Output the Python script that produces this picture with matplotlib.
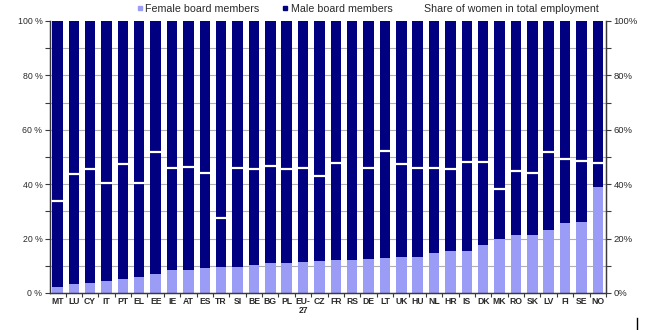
import numpy as np
import matplotlib
matplotlib.use("Agg")
import matplotlib.pyplot as plt
from matplotlib.lines import Line2D
from matplotlib.ticker import MultipleLocator, FixedLocator

plt.rcParams['font.family'] = ['Liberation Sans', 'DejaVu Sans']

countries = ["MT", "LU", "CY", "IT", "PT", "EL", "EE", "IE", "AT", "ES", "TR", "SI",
             "BE", "BG", "PL", "EU-\n27", "CZ", "FR", "RS", "DE", "LT", "UK", "HU",
             "NL", "HR", "IS", "DK", "MK", "RO", "SK", "LV", "FI", "SE", "NO"]

female_board = [2.1, 3.2, 3.6, 4.3, 5.1, 6.0, 6.9, 8.3, 8.3, 9.2, 9.6, 9.7,
                10.3, 11.1, 11.1, 11.5, 11.9, 12.0, 12.0, 12.4, 12.7, 13.1, 13.1,
                14.8, 15.6, 15.6, 17.6, 19.9, 21.3, 21.3, 23.2, 25.6, 26.0, 38.9]

male_board = [97.9, 96.8, 96.4, 95.7, 94.9, 94.0, 93.1, 91.7, 91.7, 90.8, 90.4, 90.3,
              89.7, 88.9, 88.9, 88.5, 88.1, 88.0, 88.0, 87.6, 87.3, 86.9, 86.9,
              85.2, 84.4, 84.4, 82.4, 80.1, 78.7, 78.7, 76.8, 74.4, 74.0, 61.1]

women_employment = [33.7, 43.8, 45.6, 40.6, 47.5, 40.6, 51.7, 46.0, 46.4, 44.0, 27.5, 46.0,
                    45.6, 46.7, 45.6, 45.8, 43.1, 47.8, np.nan, 45.9, 52.1, 47.4, 45.8,
                    45.9, 45.6, 48.0, 48.3, 38.4, 44.7, 44.2, 51.7, 49.3, 48.4, 47.8]

yticks = [0, 20, 40, 60, 80, 100]
left_labels = ["0 %", "20 %", "40 %", "60 %", "80 %", "100 %"]
right_labels = ["0%", "20%", "40%", "60%", "80%", "100%"]

female_color = "#9a9cf6"
male_color = "#000080"
axis_color = "#3a3a3a"
text_color = "#2a2a2a"

fig = plt.figure(figsize=(6.5, 3.3), dpi=100)
ax = fig.add_axes([50 / 650, 1 - 293 / 330, 556 / 650, 272 / 330])

x = np.arange(len(countries))
width = 0.64
ax.bar(x, female_board, width, color=female_color, zorder=2)
ax.bar(x, male_board, width, bottom=female_board, color=male_color, zorder=2)
ax.plot(x, women_employment, linestyle="none", marker="_", markersize=8.8,
        markeredgewidth=1.6, color="white", zorder=3)

ax.set_xlim(-0.45, len(countries) - 0.5)
ax.set_ylim(0, 100)

# horizontal grid every 10 %
for g in range(10, 100, 10):
    ax.axhline(g, color="#b0b0b0", linewidth=0.8, zorder=1)

# x axis: labels at bar centres, tick marks between categories
ax.set_xticks(x)
ax.set_xticklabels(countries, fontsize=6.2, color=text_color, fontweight="bold",
                   linespacing=1.0)
ax.tick_params(axis="x", which="major", length=0, pad=3)
ax.xaxis.set_minor_locator(FixedLocator(np.arange(-0.5, len(countries), 1.0)))
ax.tick_params(axis="x", which="minor", length=3, width=0.8, color=axis_color,
               direction="out")

ax.set_yticks(yticks)
ax.set_yticklabels(left_labels, fontsize=6.3, color=text_color)
ax.yaxis.set_minor_locator(MultipleLocator(10))
ax.tick_params(axis="y", which="both", length=3.5, width=0.8, color=axis_color,
               direction="out", pad=2)

ax2 = ax.twinx()
ax2.set_ylim(0, 100)
ax2.set_yticks(yticks)
ax2.set_yticklabels(right_labels, fontsize=6.8, color=text_color)
ax2.yaxis.set_minor_locator(MultipleLocator(10))
ax2.tick_params(axis="y", which="both", length=3.5, width=0.8, color=axis_color,
                direction="out", pad=2)

for a in (ax, ax2):
    a.spines["top"].set_visible(False)
    for s in ("left", "right", "bottom"):
        a.spines[s].set_color(axis_color)
        a.spines[s].set_linewidth(0.9)

handles = [
    Line2D([], [], linestyle="none", marker="s", markersize=3.5,
           markerfacecolor=female_color, markeredgecolor=female_color),
    Line2D([], [], linestyle="none", marker="s", markersize=3.5,
           markerfacecolor=male_color, markeredgecolor=male_color),
    Line2D([], [], linestyle="none", marker="_", markersize=5,
           markeredgewidth=1.5, color="white"),
]
labels = ["Female board members", "Male board members",
          "Share of women in total employment"]
fig.legend(handles, labels, loc="center", bbox_to_anchor=(368 / 650, 1 - 9 / 330),
           ncol=3, frameon=False, fontsize=7.7, handlelength=0.5,
           handletextpad=0.25, columnspacing=2.2, borderaxespad=0,
           labelcolor=text_color)

# small stray stroke near the lower right corner
fig.add_artist(Line2D([637 / 650, 637 / 650], [1 - 318 / 330, 1 - 330 / 330],
                      color="black", linewidth=1.0))

fig.savefig("out.png", dpi=100)
